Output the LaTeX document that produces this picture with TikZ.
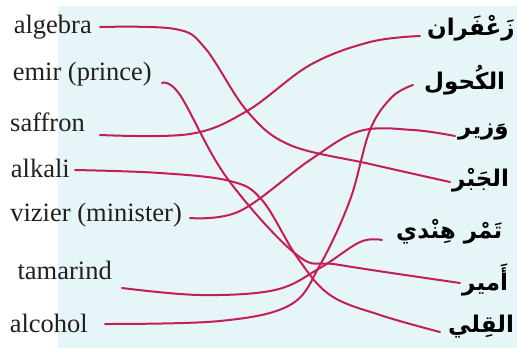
\documentclass[tikz,border=0pt]{standalone}
\usepackage{fontspec}
\setmainfont{Liberation Serif}
\newfontfamily\arabicfont[Script=Arabic]{DejaVu Sans}
\TeXXeTstate=1
\definecolor{linkred}{RGB}{196,30,84}
\definecolor{paleblue}{RGB}{230,245,247}
\definecolor{inkgray}{RGB}{35,31,32}
\begin{document}
\begin{tikzpicture}[x=1pt,y=-1pt,
        link/.style={linkred,line width=2pt,line cap=round},
        eng/.style={anchor=east,inner sep=0pt,text=inkgray,font=\fontsize{26.5}{30}\selectfont},
        arb/.style={anchor=west,inner sep=0pt,text=black,font=\arabicfont\bfseries\fontsize{23}{27}\selectfont}]
            \useasboundingbox (0,0) rectangle (517,348);
            \fill[paleblue] (58,6) rectangle (517,348);
            % english words
            \node[eng] (algebra) at (92,27) {algebra};
            \node[eng] (emir) at (152,74) {emir (prince)};
            \node[eng] (saffron) at (85,122) {saffron};
            \node[eng] (alkali) at (70,168) {alkali};
            \node[eng] (vizier) at (182,215) {vizier (minister)};
            \node[eng] (tamarind) at (112,270) {tamarind};
            \node[eng] (alcohol) at (88,323) {alcohol};
            % arabic words
            \node[arb] (zafaran) at (427,28) {\beginR زَعْفَران\endR};
            \node[arb] (kuhul) at (424,80) {\beginR الكُحول\endR};
            \node[arb] (wazir) at (458,132) {\beginR وَزير\endR};
            \node[arb] (jabr) at (452,180) {\beginR الجَبْر\endR};
            \node[arb] (tamr) at (396,232) {\beginR تَمْر هِنْدي\endR};
            \node[arb] (amir) at (462,280) {\beginR أَمير\endR};
            \node[arb] (qili) at (448,327) {\beginR القِلي\endR};
            % matching lines
            \draw[link] plot[smooth,tension=0.6] coordinates {([shift={(8,0)}]algebra.east) (175,29) (205,48) (247,111) (290,145) (370,164) ([shift={(-2,2)}]jabr.west)};
            \draw[link] plot[smooth,tension=0.6] coordinates {([shift={(10,9)}]emir.east) (180,95) (227,178) (297,255) (340,265) ([shift={(-2,3)}]amir.west)};
            \draw[link] plot[smooth,tension=0.6] coordinates {([shift={(15,13)}]saffron.east) (190,134) (247,111) (310,65) (370,42) ([shift={(-7,8)}]zafaran.west)};
            \draw[link] plot[smooth,tension=0.6] coordinates {([shift={(5,2)}]alkali.east) (160,173) (230,181) (262,200) (297,257) (330,295) (380,315) ([shift={(-8,5)}]qili.west)};
            \draw[link] plot[smooth,tension=0.6] coordinates {([shift={(8,3)}]vizier.east) (240,211) (310,160) (360,131) (413,130) ([shift={(-3,4)}]wazir.west)};
            \draw[link] plot[smooth,tension=0.6] coordinates {([shift={(10,18)}]tamarind.east) (200,295) (275,290) (320,268) (360,242) ([shift={(-14,8)}]tamr.west)};
            \draw[link] plot[smooth,tension=0.6] coordinates {([shift={(17,1)}]alcohol.east) (220,321) (290,305) (320,265) (350,200) (370,130) (392,97) ([shift={(-11,5)}]kuhul.west)};
\end{tikzpicture}
\end{document}
